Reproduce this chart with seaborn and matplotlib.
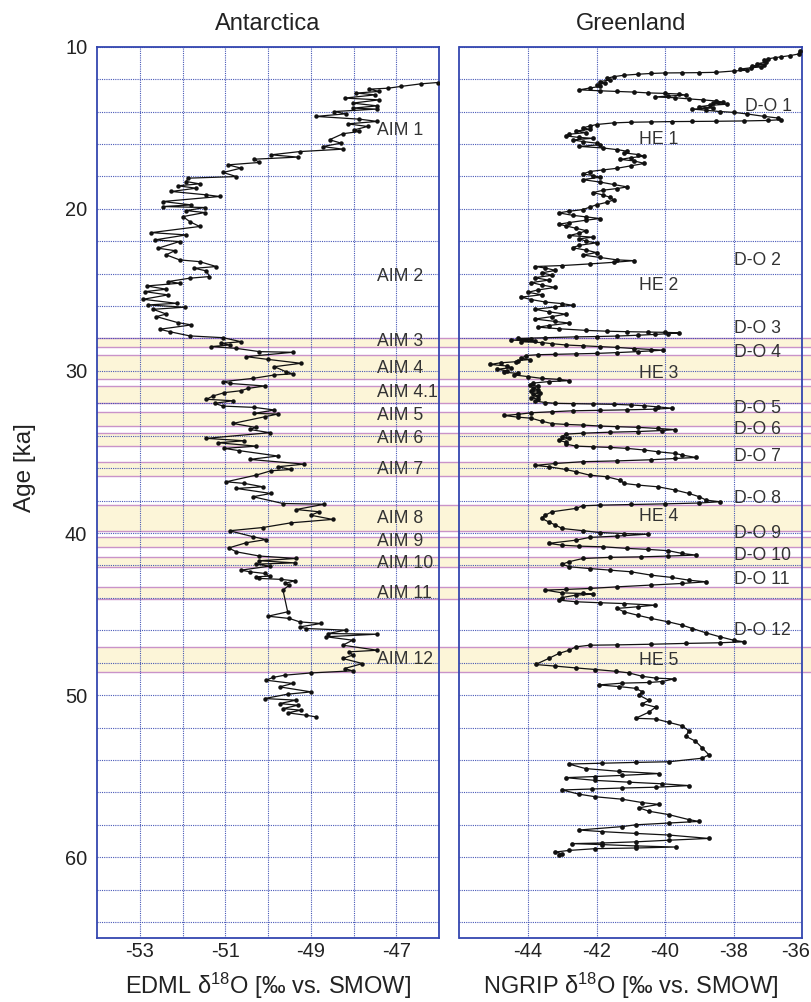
import numpy as np
import seaborn as sns
import matplotlib.pyplot as plt
from matplotlib.transforms import ScaledTranslation

# EDML (Antarctica) d18O record, age in ka
edml_age = [
    12.21, 12.29, 12.45, 12.56, 12.62, 12.76, 12.86, 12.97, 13.17, 13.28,
    13.48, 13.65, 13.79, 13.85, 14.00, 14.14, 14.30, 14.47, 14.61, 14.76,
    14.92, 15.13, 15.23, 15.37, 15.74, 15.95, 16.16, 16.32, 16.47, 16.67,
    16.81, 16.94, 17.14, 17.29, 17.49, 17.76, 18.01, 18.11, 18.32, 18.46,
    18.58, 18.73, 18.93, 19.14, 19.24, 19.55, 19.76, 19.86, 19.92, 20.11,
    20.23, 20.48, 20.79, 21.09, 21.47, 21.61, 21.92, 22.02, 22.43, 22.58,
    22.84, 23.15, 23.26, 23.56, 23.67, 23.83, 24.18, 24.28, 24.49, 24.59,
    24.76, 24.96, 25.11, 25.31, 25.58, 25.83, 25.93, 26.07, 26.20, 26.49,
    26.65, 27.02, 27.16, 27.43, 27.58, 27.84, 27.95, 28.20, 28.30, 28.40,
    28.50, 28.61, 28.81, 28.85, 29.12, 29.29, 29.53, 29.74, 30.05, 30.18,
    30.25, 30.46, 30.66, 30.77, 30.93, 31.08, 31.22, 31.34, 31.55, 31.75,
    31.84, 32.00, 32.17, 32.25, 32.41, 32.62, 32.66, 32.83, 33.24, 33.49,
    33.61, 33.81, 34.16, 34.31, 34.43, 34.64, 34.78, 34.92, 35.25, 35.46,
    35.75, 35.91, 36.08, 36.16, 36.43, 36.84, 36.94, 37.15, 37.25, 37.56,
    37.76, 38.18, 38.22, 38.55, 38.69, 38.90, 39.16, 39.37, 39.66, 39.86,
    40.23, 40.40, 40.60, 40.92, 41.16, 41.42, 41.57, 41.71, 41.84, 41.92,
    42.04, 42.29, 42.39, 42.49, 42.66, 42.70, 42.80, 42.86, 42.95, 43.11,
    43.21, 43.52, 44.86, 45.13, 45.27, 45.48, 45.58, 45.79, 45.89, 45.99,
    46.20, 46.24, 46.40, 46.61, 46.92, 47.23, 47.33, 47.53, 47.74, 48.05,
    48.36, 48.50, 48.63, 48.77, 48.91, 49.08, 49.28, 49.49, 49.80, 49.94,
    50.21, 50.31, 50.52, 50.62, 50.83, 50.93, 51.09, 51.24, 51.34,
]
edml_d18o = [
    -46.03, -46.42, -46.89, -47.19, -47.63, -47.40, -47.94, -47.49, -48.21, -47.40,
    -48.02, -47.44, -48.02, -47.46, -48.45, -48.18, -48.88, -47.86, -47.44, -48.14,
    -47.67, -47.98, -47.86, -48.25, -48.56, -48.29, -48.72, -48.25, -49.26, -49.93,
    -49.30, -50.32, -50.20, -50.94, -50.63, -51.05, -50.74, -51.87, -51.91, -51.60,
    -52.11, -51.68, -52.26, -51.44, -51.13, -52.46, -51.79, -52.46, -51.48, -51.91,
    -51.48, -51.99, -51.83, -51.60, -52.73, -51.91, -52.65, -52.07, -52.57, -52.18,
    -52.38, -52.07, -51.60, -51.21, -51.72, -51.44, -51.37, -51.83, -52.34, -52.07,
    -52.84, -52.38, -52.88, -52.34, -52.92, -52.14, -52.81, -51.95, -52.69, -52.38,
    -52.61, -52.11, -51.79, -52.53, -52.30, -51.83, -51.05, -50.63, -51.09, -50.90,
    -51.33, -50.74, -50.20, -49.42, -50.51, -50.00, -49.23, -49.85, -49.58, -49.42,
    -49.85, -50.35, -51.05, -50.90, -50.08, -50.47, -50.63, -51.02, -51.29, -51.44,
    -50.82, -51.25, -51.05, -50.32, -49.85, -50.32, -49.77, -50.08, -50.82, -50.28,
    -50.43, -49.96, -51.44, -50.55, -51.17, -50.28, -51.02, -50.67, -49.77, -50.43,
    -49.15, -49.77, -49.46, -49.93, -50.28, -50.98, -50.55, -50.12, -50.74, -49.93,
    -50.35, -49.65, -48.68, -49.34, -48.80, -49.00, -48.49, -49.46, -50.12, -50.90,
    -50.35, -50.04, -50.51, -50.92, -50.74, -50.20, -49.34, -50.20, -49.38, -50.28,
    -49.96, -50.63, -50.43, -50.08, -49.96, -50.28, -50.20, -49.69, -49.38, -49.61,
    -49.50, -49.65, -49.54, -50.00, -49.50, -49.26, -48.76, -49.26, -49.11, -48.18,
    -48.60, -47.44, -48.64, -48.02, -48.25, -47.44, -48.10, -48.02, -48.25, -47.79,
    -48.21, -48.02, -48.99, -49.61, -49.89, -50.04, -49.42, -49.73, -48.99, -49.54,
    -50.08, -49.34, -49.73, -49.30, -49.65, -49.23, -49.54, -49.11, -48.88,
]

# NGRIP (Greenland) d18O record
ngrip_age = [
    10.29, 10.45, 10.55, 10.62, 10.68, 10.75, 10.85, 10.95, 11.05, 11.10,
    11.18, 11.25, 11.30, 11.38, 11.45, 11.50, 11.58, 11.60, 11.61, 11.62,
    11.65, 11.70, 11.76, 11.85, 11.95, 12.05, 12.15, 12.25, 12.35, 12.45,
    12.55, 12.66, 12.72, 12.76, 12.80, 12.85, 12.88, 12.92, 12.98, 13.05,
    13.10, 13.15, 13.22, 13.28, 13.35, 13.42, 13.48, 13.55, 13.62, 13.70,
    13.78, 13.85, 13.92, 14.00, 14.05, 14.15, 14.30, 14.40, 14.50, 14.55,
    14.58, 14.60, 14.61, 14.62, 14.64, 14.66, 14.70, 14.80, 14.90, 15.00,
    15.10, 15.20, 15.30, 15.40, 15.50, 15.60, 15.65, 15.75, 15.85, 15.95,
    16.05, 16.15, 16.25, 16.35, 16.45, 16.55, 16.65, 16.75, 16.85, 16.95,
    17.05, 17.20, 17.35, 17.50, 17.60, 17.70, 17.85, 17.95, 18.05, 18.20,
    18.35, 18.50, 18.65, 18.75, 18.85, 19.00, 19.15, 19.30, 19.45, 19.60,
    19.75, 19.90, 20.05, 20.15, 20.25, 20.40, 20.50, 20.60, 20.70, 20.85,
    20.95, 21.05, 21.20, 21.35, 21.50, 21.65, 21.75, 21.85, 22.00, 22.10,
    22.25, 22.40, 22.55, 22.70, 22.85, 23.00, 23.15, 23.20, 23.30, 23.40,
    23.50, 23.56, 23.65, 23.80, 23.95, 24.10, 24.25, 24.40, 24.55, 24.70,
    24.85, 25.00, 25.15, 25.30, 25.45, 25.60, 25.75, 25.85, 25.95, 26.05,
    26.20, 26.35, 26.50, 26.65, 26.80, 26.95, 27.05, 27.20, 27.30, 27.40,
    27.50, 27.55, 27.58, 27.60, 27.62, 27.65, 27.70, 27.75, 27.80, 27.85,
    27.88, 27.90, 27.95, 28.00, 28.05, 28.10, 28.15, 28.20, 28.25, 28.32,
    28.40, 28.45, 28.50, 28.55, 28.62, 28.68, 28.72, 28.81, 28.87, 28.92,
    28.95, 28.98, 29.00, 29.05, 29.22, 29.30, 29.36, 29.43, 29.50, 29.60,
    29.70, 29.80, 29.90, 30.00, 30.08, 30.15, 30.25, 30.35, 30.46, 30.52,
    30.60, 30.66, 30.75, 30.85, 30.95, 31.05, 31.15, 31.25, 31.35, 31.45,
    31.55, 31.65, 31.75, 31.85, 31.95, 32.00, 32.02, 32.04, 32.06, 32.10,
    32.15, 32.22, 32.30, 32.36, 32.40, 32.43, 32.46, 32.52, 32.58, 32.68,
    32.75, 32.85, 32.92, 33.10, 33.25, 33.30, 33.34, 33.40, 33.44, 33.48,
    33.55, 33.62, 33.68, 33.74, 33.78, 33.84, 33.90, 34.05, 34.15, 34.27,
    34.40, 34.51, 34.64, 34.68, 34.72, 34.78, 34.88, 34.99, 35.09, 35.19,
    35.34, 35.40, 35.48, 35.55, 35.60, 35.71, 35.83, 35.91, 36.08, 36.22,
    36.43, 36.53, 36.74, 36.94, 37.04, 37.15, 37.35, 37.56, 37.76, 37.97,
    38.07, 38.15, 38.20, 38.24, 38.28, 38.32, 38.48, 38.69, 38.90, 39.10,
    39.31, 39.51, 39.72, 39.86, 39.97, 40.03, 40.07, 40.19, 40.27, 40.44,
    40.64, 40.75, 40.81, 40.85, 40.95, 41.01, 41.09, 41.26, 41.36, 41.42,
    41.47, 41.50, 41.57, 41.77, 41.92, 42.08, 42.19, 42.29, 42.39, 42.60,
    42.74, 42.91, 43.01, 43.11, 43.21, 43.32, 43.42, 43.48, 43.52, 43.69,
    43.73, 43.77, 43.83, 43.98, 44.14, 44.24, 44.30, 44.35, 44.45, 44.55,
    44.65, 44.86, 45.07, 45.27, 45.48, 45.68, 45.89, 46.16, 46.40, 46.61,
    46.71, 46.77, 46.81, 46.86, 46.90, 46.92, 47.02, 47.23, 47.43, 47.74,
    48.11, 48.21, 48.32, 48.42, 48.53, 48.63, 48.84, 48.95, 49.00, 49.16,
    49.22, 49.26, 49.37, 49.47, 49.58, 49.79, 50.00, 50.32, 50.53, 50.74,
    51.05, 51.43, 51.47, 51.68, 51.89, 52.21, 52.53, 52.84, 53.26, 53.68,
    53.89, 54.11, 54.15, 54.20, 54.25, 54.53, 54.70, 54.84, 54.95, 55.02,
    55.09, 55.26, 55.37, 55.47, 55.58, 55.68, 55.73, 55.79, 55.85, 56.11,
    56.27, 56.42, 56.63, 56.74, 56.95, 57.16, 57.37, 57.68, 57.79, 57.89,
    58.00, 58.11, 58.32, 58.42, 58.53, 58.63, 58.84, 58.95, 59.05, 59.12,
    59.16, 59.22, 59.30, 59.37, 59.43, 59.47, 59.58, 59.68, 59.79, 59.89,
]
ngrip_d18o = [
    -36.07, -36.10, -36.35, -36.60, -36.80, -37.00, -37.10, -37.05, -37.30, -37.10,
    -37.45, -37.20, -37.50, -37.80, -37.60, -38.00, -38.50, -39.00, -39.50, -40.00,
    -40.40, -40.80, -41.20, -41.50, -41.70, -41.60, -41.90, -41.75, -42.00, -41.90,
    -42.20, -42.50, -41.90, -41.40, -40.90, -40.50, -40.00, -39.60, -39.40, -39.90,
    -40.30, -39.70, -39.30, -38.90, -38.50, -38.30, -38.60, -38.20, -38.70, -39.00,
    -38.60, -39.20, -38.80, -38.40, -38.00, -37.60, -37.10, -36.70, -36.60, -37.00,
    -37.70, -38.50, -39.20, -39.80, -40.40, -41.00, -41.50, -42.00, -42.20, -42.40,
    -42.20, -42.60, -42.30, -42.80, -42.90, -42.50, -42.10, -42.70, -42.40, -42.00,
    -41.90, -42.50, -41.80, -41.40, -41.10, -41.20, -40.80, -40.60, -41.00, -41.30,
    -40.90, -40.60, -41.00, -41.40, -41.80, -42.20, -42.40, -42.10, -41.90, -42.40,
    -41.90, -41.50, -41.10, -41.40, -41.80, -42.10, -41.80, -41.60, -41.50, -41.70,
    -42.00, -42.20, -42.40, -42.80, -43.10, -42.70, -42.30, -41.90, -42.30, -42.80,
    -43.10, -42.90, -42.60, -42.30, -42.50, -42.80, -42.10, -42.50, -42.30, -42.00,
    -42.50, -42.70, -42.30, -42.00, -42.40, -41.90, -41.40, -40.90, -41.50, -42.20,
    -43.00, -43.80, -43.50, -43.20, -43.60, -43.30, -43.80, -43.40, -43.90, -43.60,
    -43.20, -43.70, -44.00, -43.60, -44.20, -43.90, -43.50, -43.00, -42.70, -43.20,
    -43.80, -43.40, -42.90, -43.30, -43.80, -43.20, -42.80, -43.40, -43.70, -43.10,
    -42.30, -41.70, -41.10, -40.50, -40.00, -39.60, -39.90, -40.30, -40.80, -41.40,
    -42.00, -42.60, -43.50, -44.30, -43.90, -44.50, -43.80, -44.20, -43.60, -43.30,
    -42.90, -42.40, -41.90, -41.40, -40.90, -40.40, -40.05, -40.80, -41.40, -42.00,
    -42.60, -43.20, -43.70, -44.05, -44.20, -43.95, -44.30, -44.34, -44.80, -45.10,
    -44.60, -44.50, -44.90, -44.60, -44.70, -44.30, -44.40, -44.00, -43.60, -43.10,
    -42.80, -43.40, -43.85, -43.95, -43.70, -43.85, -43.70, -43.90, -43.65, -43.85,
    -43.70, -43.90, -43.70, -43.80, -43.50, -43.20, -42.70, -42.10, -41.50, -41.00,
    -40.60, -40.20, -39.80, -40.30, -41.10, -41.90, -42.70, -43.30, -43.90, -44.30,
    -44.70, -44.30, -43.90, -43.60, -43.30, -42.90, -42.40, -41.90, -41.40, -40.80,
    -40.20, -39.70, -40.10, -40.80, -41.60, -42.40, -42.90, -43.00, -42.80, -43.10,
    -42.90, -42.90, -42.60, -42.10, -41.60, -41.10, -40.60, -40.20, -39.70, -39.50,
    -39.10, -39.70, -40.40, -41.40, -42.40, -43.20, -43.80, -43.40, -42.90, -42.60,
    -42.20, -41.70, -41.30, -41.20, -40.80, -40.20, -39.70, -39.30, -39.00, -38.80,
    -38.40, -39.00, -40.00, -41.00, -41.90, -42.40, -42.60, -43.30, -43.50, -43.60,
    -43.40, -43.20, -43.00, -42.40, -41.90, -41.20, -40.50, -41.40, -42.20, -42.60,
    -43.40, -43.00, -42.50, -41.80, -41.10, -40.50, -39.90, -39.50, -39.10, -39.90,
    -40.70, -41.60, -42.40, -42.80, -43.00, -42.80, -42.20, -41.60, -41.00, -40.40,
    -39.80, -39.30, -38.80, -39.50, -40.40, -41.40, -42.20, -42.90, -43.50, -43.00,
    -42.40, -42.10, -42.60, -43.00, -43.10, -42.60, -41.90, -41.20, -40.30, -40.80,
    -41.40, -41.20, -40.80, -40.40, -39.90, -39.50, -39.20, -38.80, -38.40, -38.00,
    -37.70, -38.40, -39.40, -40.40, -41.40, -42.20, -42.60, -42.80, -43.10, -43.40,
    -43.78, -43.20, -42.61, -42.03, -41.44, -41.05, -40.66, -40.27, -39.74, -40.08,
    -40.47, -41.25, -41.93, -41.35, -40.86, -40.66, -40.76, -40.47, -40.66, -40.27,
    -40.47, -40.86, -40.27, -39.89, -39.50, -39.30, -39.40, -39.11, -38.91, -38.72,
    -38.91, -39.89, -40.86, -41.83, -42.81, -42.32, -41.35, -40.18, -41.25, -42.03,
    -42.90, -42.03, -41.05, -40.08, -39.30, -40.27, -41.25, -42.13, -43.00, -42.51,
    -42.03, -41.25, -40.66, -40.18, -40.76, -40.47, -39.89, -39.30, -39.01, -39.89,
    -40.86, -41.25, -42.51, -41.83, -40.86, -39.89, -38.72, -39.89, -40.86, -41.83,
    -42.71, -41.83, -40.86, -39.69, -40.86, -42.03, -42.81, -43.20, -43.00, -43.10,
]

ages_ticks = [10, 20, 30, 40, 50, 60]

# shaded intervals (top, bottom) in ka
band_top = [27.95, 29.00, 30.95, 32.55, 33.80, 35.60, 38.30, 40.23, 41.46, 43.32, 47.00]
band_bottom = [28.52, 30.52, 31.97, 33.38, 34.65, 36.50, 39.90, 40.84, 42.08, 44.05, 48.55]

aim_labels = ['AIM 1', 'AIM 2', 'AIM 3', 'AIM 4', 'AIM 4.1', 'AIM 5', 'AIM 6',
              'AIM 7', 'AIM 8', 'AIM 9', 'AIM 10', 'AIM 11', 'AIM 12']
aim_ages = [15.15, 24.2, 28.2, 29.84, 31.34, 32.78, 34.16, 36.07, 39.09, 40.53,
            41.87, 43.72, 47.79]

do_labels = ['D-O 1', 'D-O 2', 'D-O 3', 'D-O 4', 'D-O 5', 'D-O 6', 'D-O 7', 'D-O 8',
             'D-O 9', 'D-O 10', 'D-O 11', 'D-O 12']
do_ages = [13.7, 23.16, 27.40, 28.88, 32.31, 33.60, 35.25, 37.86, 40.02, 41.36,
           42.86, 45.99]
he_labels = ['HE 1', 'HE 2', 'HE 3', 'HE 4', 'HE 5']
he_ages = [15.75, 24.76, 30.15, 38.99, 47.84]

sns.set_style("white")
plt.rcParams['font.family'] = ['Liberation Sans', 'DejaVu Sans']
plt.rcParams['mathtext.default'] = 'regular'

W, H = 812, 1002
fig = plt.figure(figsize=(W / 100, H / 100), dpi=100)
top_px, bot_px = 46.7, 938.3
ax1 = fig.add_axes([97 / W, 1 - bot_px / H, 342 / W, (bot_px - top_px) / H])
ax2 = fig.add_axes([459.5 / W, 1 - bot_px / H, 342.5 / W, (bot_px - top_px) / H])

blue = '#3446b0'
txt = '#222222'
ann = '#333333'

for ax, xmax in ((ax1, (459.5 - 97) / 342), (ax2, (812 - 459.5) / 342.5)):
    for t, b in zip(band_top, band_bottom):
        ax.axhspan(t, b, 0, xmax, facecolor='#fcf5d8', lw=0, zorder=0.1, clip_on=False)
        for yy in (t, b):
            ax.axhline(yy, 0, xmax, color='#c993c9', lw=1.0, zorder=0.2, clip_on=False)

sns.lineplot(x=edml_d18o, y=edml_age, sort=False, estimator=None, ax=ax1,
             color='#111111', linewidth=0.9, marker='o', markersize=3.2,
             markeredgewidth=0, zorder=3)
sns.lineplot(x=ngrip_d18o, y=ngrip_age, sort=False, estimator=None, ax=ax2,
             color='#111111', linewidth=0.9, marker='o', markersize=3.4,
             markeredgewidth=0, zorder=3)

for ax in (ax1, ax2):
    ax.set_ylim(65, 10)
    ax.set_yticks(np.arange(10, 65, 2))
    ax.grid(True, color=blue, linestyle=(0, (1, 1)), linewidth=0.8, alpha=0.9)
    ax.set_axisbelow(False)
    for s in ax.spines.values():
        s.set_color(blue)
        s.set_linewidth(1.3)
    ax.tick_params(direction='in', length=4, color=blue, labelsize=14.4,
                   labelcolor=txt)
    ax.tick_params(axis='y', pad=7)
    ax.tick_params(axis='x', pad=3)
    ax.set_ylabel('')

ax1.set_xlim(-54, -46)
ax1.set_xticks(np.arange(-53, -46, 1))
ax1.set_xticklabels([str(v) if v % 2 else '' for v in range(-53, -46)])
ax1.set_yticklabels([str(v) if v in ages_ticks else '' for v in range(10, 65, 2)])

ax2.set_xlim(-46, -36)
ax2.set_xticks([-44, -42, -40, -38, -36])
ax2.set_xticklabels(['-44', '-42', '-40', '-38', '-36'])
ax2.set_yticklabels([])
# keep the last tick label inside the figure edge
last = ax2.get_xticklabels()[-1]
last.set_transform(last.get_transform() + ScaledTranslation(-0.06, 0, fig.dpi_scale_trans))

ax1.set_title('Antarctica', fontsize=17, color=txt, pad=12)
ax2.set_title('Greenland', fontsize=17, color=txt, pad=12)
ax1.set_xlabel('EDML δ$^{18}$O [‰ vs. SMOW]', fontsize=17, color=txt, labelpad=7)
ax2.set_xlabel('NGRIP δ$^{18}$O [‰ vs. SMOW]', fontsize=17, color=txt, labelpad=7)
fig.text(25 / W, 1 - 468 / H, 'Age [ka]', rotation=90, ha='center', va='center',
         fontsize=17.5, color=txt)

for lab, a in zip(aim_labels, aim_ages):
    ax1.text(-47.45, a, lab, ha='left', va='center', fontsize=12.7, color=ann, zorder=4)
for lab, a in zip(do_labels, do_ages):
    x = -37.66 if lab == 'D-O 1' else -37.98
    ax2.text(x, a, lab, ha='left', va='center', fontsize=12.7, color=ann, zorder=4)
for lab, a in zip(he_labels, he_ages):
    ax2.text(-40.76, a, lab, ha='left', va='center', fontsize=12.7, color=ann, zorder=4)

fig.savefig('out.png', dpi=100)
